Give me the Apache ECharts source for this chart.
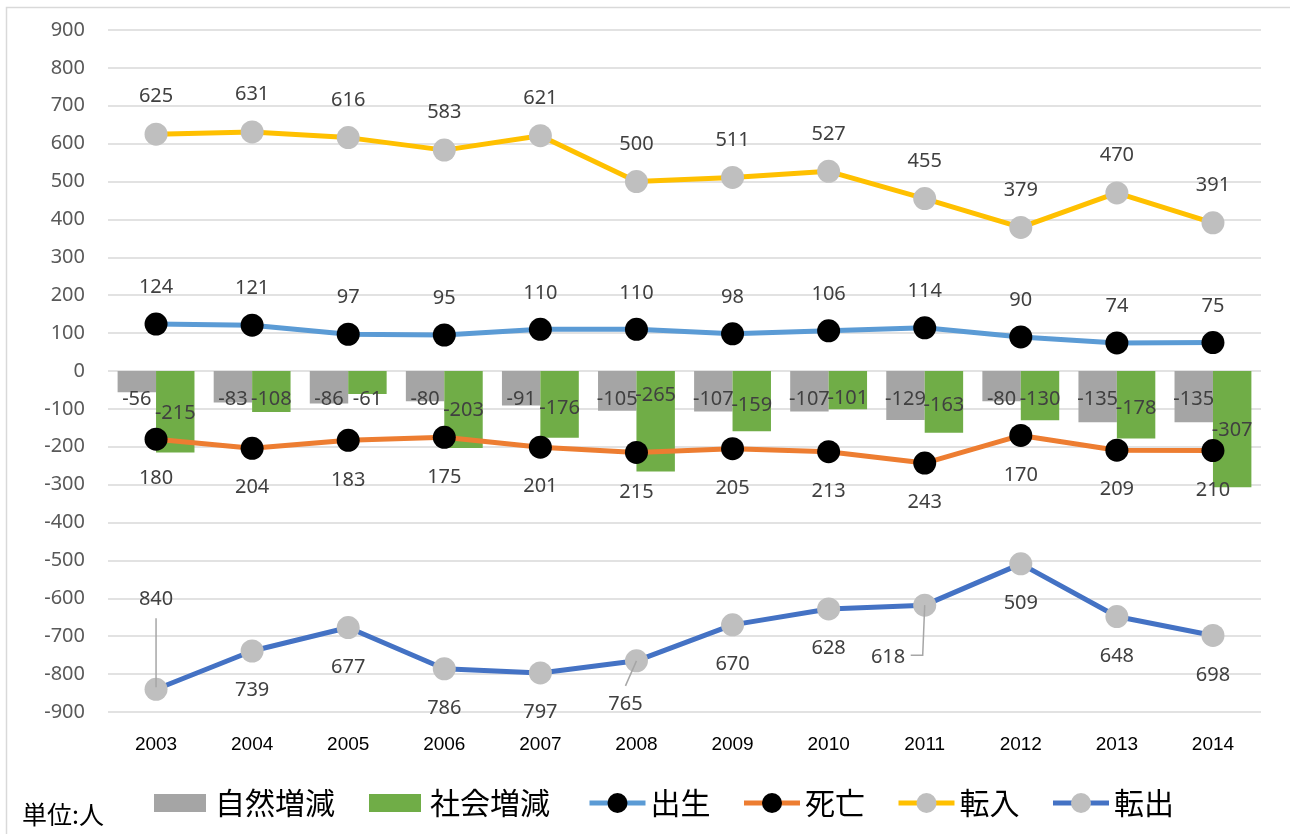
<!DOCTYPE html>
<html><head><meta charset="utf-8">
<script src="https://cdn.jsdelivr.net/npm/echarts@6/dist/echarts.min.js"></script>
<style>html,body{margin:0;padding:0;background:#fff}#c{width:1290px;height:834px}</style>
</head><body><div id="c"></div>
<script>
// ---- data ----
const years = ['2003','2004','2005','2006','2007','2008','2009','2010','2011','2012','2013','2014'];
const naturalChange = [-56,-83,-86,-80,-91,-105,-107,-107,-129,-80,-135,-135];
const socialChange = [-215,-108,-61,-203,-176,-265,-159,-101,-163,-130,-178,-307];
const births = [124,121,97,95,110,110,98,106,114,90,74,75];
const deaths = [-180,-204,-183,-175,-201,-215,-205,-213,-243,-170,-209,-210];
const moveIn = [625,631,616,583,621,500,511,527,455,379,470,391];
const moveOut = [-840,-739,-677,-786,-797,-765,-670,-628,-618,-509,-648,-698];
const yMin = -900, yMax = 900, yStep = 100;

// ---- layout (label placement tweaks, not data) ----
const socialLabelDist = [32,18,18,29,27,14,24,17,24,18,27,49];
const moveOutLabelOverride = {
  0: {position:'top', distance:68},
  5: {position:'bottom', distance:22, offset:[-11,0]},
  8: {position:'left', distance:8, offset:[0,52]}
};
// leader line shapes as pixel offsets from the data point
const moveOutLeaders = {
  0: [[0,-71],[0,-2]],
  5: [[0,0],[-11,25]],
  8: [[0,0],[-2,50],[-14,50]]
};

const numFont = 'Noto Sans';
const lblColor = '#404040';

function absFmt(p){ return String(Math.abs(p.value)); }

const chart = echarts.init(document.getElementById('c'), null, {renderer:'canvas'});
const socialData = socialChange.map((v,i)=>({value:v, label:{distance:socialLabelDist[i]}}));
const moveOutData = moveOut.map((v,i)=>{
  const o = moveOutLabelOverride[i];
  if(!o) return v;
  const item = {value:v, label:{position:o.position, distance:o.distance}};
  if(o.offset) item.label.offset = o.offset;
  return item;
});
const leaderIdx = Object.keys(moveOutLeaders).map(Number);
const leaderData = leaderIdx.map(i=>[i, moveOut[i]]);

function lineSeries(name, data, lineColor, markerColor, pos, dist){
  return {
    name, type:'line', data,
    symbol:'circle', symbolSize:23,
    lineStyle:{color:lineColor, width:5},
    itemStyle:{color:markerColor, borderWidth:0},
    label:{show:true, position:pos, distance:dist, formatter:absFmt,
      fontFamily:numFont, fontSize:20, color:lblColor},
    z:3
  };
}

chart.setOption({
  animation:false,
  backgroundColor:'#fff',
  graphic:[
    {type:'rect', shape:{x:6.5, y:7.5, width:1400, height:900}, style:{fill:'none', stroke:'#D9D9D9', lineWidth:1.5}, silent:true},
    {type:'text', left:22, top:802, style:{text:'単位:人', font:'25px "Noto Sans CJK JP"', fill:'#000'}}
  ],
  grid:{left:108, right:29, top:30, bottom:122, containLabel:false},
  xAxis:{
    type:'category', data:years, boundaryGap:true,
    axisLine:{show:false}, axisTick:{show:false},
    axisLabel:{color:'#000', fontSize:19, fontFamily:'"Liberation Sans Narrow","Liberation Sans",sans-serif', margin:23}
  },
  yAxis:{
    type:'value', min:yMin, max:yMax, interval:yStep,
    axisLine:{show:false}, axisTick:{show:false},
    axisLabel:{color:'#595959', fontSize:20, fontFamily:numFont, margin:23},
    splitLine:{lineStyle:{color:'#D9D9D9', width:1.5}}
  },
  legend:[
    {data:['自然増減','社会増減'], left:154, top:788, padding:0, icon:'rect', itemWidth:52, itemHeight:18, itemGap:34,
     textStyle:{fontSize:30, fontFamily:'"Noto Sans CJK JP"', color:'#000', padding:[0,0,0,4]}},
    {data:['出生','死亡','転入','転出'], left:587, top:788, padding:0, itemWidth:56, itemHeight:25, itemGap:31,
     lineStyle:{width:5},
     textStyle:{fontSize:30, fontFamily:'"Noto Sans CJK JP"', color:'#000'}}
  ],
  series:[
    {name:'自然増減', type:'bar', data:naturalChange, barGap:'0%', barCategoryGap:'20%',
     itemStyle:{color:'#A5A5A5'},
     label:{show:true, position:'insideTop', distance:18, fontFamily:numFont, fontSize:20, color:lblColor}, z:2},
    {name:'社会増減', type:'bar', data:socialData, barGap:'0%', barCategoryGap:'20%',
     itemStyle:{color:'#70AD47'},
     label:{show:true, position:'insideTop', distance:25, fontFamily:numFont, fontSize:20, color:lblColor}, z:2},
    lineSeries('出生', births, '#5B9BD5', '#000', 'top', 15),
    lineSeries('死亡', deaths, '#ED7D31', '#000', 'bottom', 18),
    lineSeries('転入', moveIn, '#FFC000', '#BFBFBF', 'top', 16),
    lineSeries('転出', moveOutData, '#4472C4', '#BFBFBF', 'bottom', 18),
    {
      name:'転出leader', type:'custom', data:leaderData, z:4, silent:true,
      encode:{x:0, y:1}, legendHoverLink:false, tooltip:{show:false},
      renderItem:function(params, api){
        const idx = leaderIdx[params.dataIndex];
        const pt = api.coord([api.value(0), api.value(1)]);
        const pts = moveOutLeaders[idx].map(d=>[pt[0]+d[0], pt[1]+d[1]]);
        return {type:'polyline', shape:{points:pts}, style:{stroke:'#A6A6A6', lineWidth:1.5, fill:'none'}};
      }
    }
  ]
});
</script></body></html>
